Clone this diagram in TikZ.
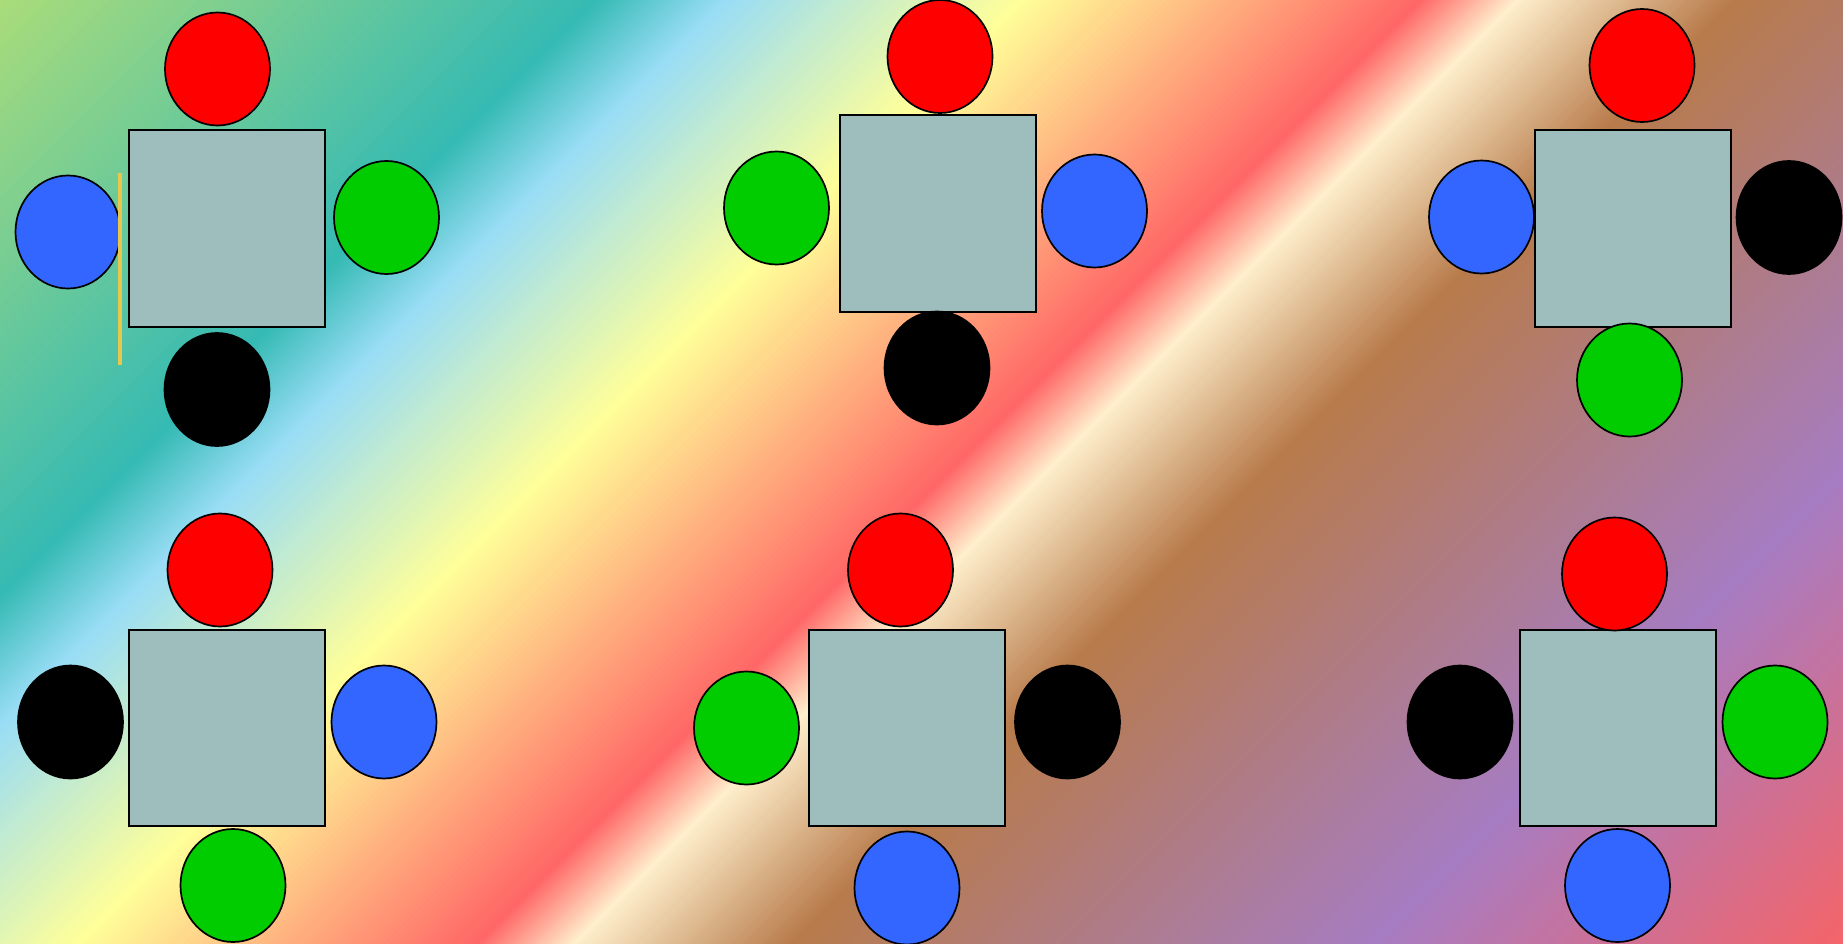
\documentclass[tikz,border=0pt]{standalone}
\usetikzlibrary{shapes.geometric}
\definecolor{bgA}{HTML}{AADC7A}
\definecolor{bgB}{HTML}{35BAB4}
\definecolor{bgC}{HTML}{99DDF6}
\definecolor{bgD}{HTML}{FFFF99}
\definecolor{bgE}{HTML}{FF6666}
\definecolor{bgF}{HTML}{FFEFCC}
\definecolor{bgG}{HTML}{B87B4B}
\definecolor{bgH}{HTML}{A67CC2}
\definecolor{bgI}{HTML}{F56468}
\definecolor{tablefill}{HTML}{9EBDBD}
\definecolor{seatred}{HTML}{FF0000}
\definecolor{seatgreen}{HTML}{00CC00}
\definecolor{seatblue}{HTML}{3366FF}
\definecolor{marker}{HTML}{E8C84C}
\tikzset{
  tablebox/.style={rectangle, draw=black, line width=2pt, fill=tablefill, minimum width=196pt, minimum height=196pt, inner sep=0pt},
  seat/.style={ellipse, draw=black, line width=1.7pt, minimum width=105pt, minimum height=113pt, inner sep=0pt},
  redseat/.style={seat, fill=seatred},
  greenseat/.style={seat, fill=seatgreen},
  blueseat/.style={seat, fill=seatblue},
  blackseat/.style={seat, fill=black},
}
\begin{document}
\begin{tikzpicture}[x=1pt,y=-1pt]
\useasboundingbox (0,0) rectangle (1843,944);
\begin{scope}
\clip (0,0) rectangle (1843,944);
\fill[bgA] (0,0) rectangle (1843,944);
\foreach \sa/\sb/\ca/\cb in {0/595/bgA/bgB, 595/725/bgB/bgC, 725/1020/bgC/bgD, 1020/1420/bgD/bgE, 1420/1517/bgE/bgF, 1517/1735/bgF/bgG, 1735/2315/bgG/bgH, 2315/2790/bgH/bgI}{
  \foreach \k in {0,...,59}{
    \pgfmathsetmacro\st{(\sb-\sa)/60}
    \pgfmathsetmacro\xa{\sa+\st*\k}
    \pgfmathsetmacro\xb{\sa+\st*(\k+1)+0.8}
    \pgfmathtruncatemacro\p{(\k+0.5)*100/60}
    \colorlet{stripe}{\cb!\p!\ca}
    \fill[stripe] (\xa,0) -- (\xb,0) -- (\xb-944,944) -- (\xa-944,944) -- cycle;
  }
}
\end{scope}
% table 1
\node[tablebox] (t1) at (226.5,228.5) {};
\node[redseat] (t1r) at (217.5,69) {};
\node[blueseat] (t1b) at (68,232) {};
\node[greenseat] (t1g) at (386.5,217.5) {};
\node[blackseat] (t1k) at (217,389.5) {};
% table 2
\node[tablebox] (t2) at (937.5,213.5) {};
\node[redseat] (t2r) at (940,56.5) {};
\node[greenseat] (t2g) at (776.5,208) {};
\node[blueseat] (t2b) at (1094.5,211) {};
\node[blackseat] (t2k) at (937,368) {};
% table 3
\node[tablebox] (t3) at (1633,228.5) {};
\node[redseat] (t3r) at (1642,65.5) {};
\node[blueseat] (t3b) at (1481.5,217) {};
\node[blackseat] (t3k) at (1789,217.5) {};
\node[greenseat] (t3g) at (1629.5,380) {};
% table 4
\node[tablebox] (t4) at (226.5,727.5) {};
\node[redseat] (t4r) at (220,570) {};
\node[blackseat] (t4k) at (70.5,722) {};
\node[blueseat] (t4b) at (384,722) {};
\node[greenseat] (t4g) at (233,885.5) {};
% table 5
\node[tablebox] (t5) at (907,727.5) {};
\node[redseat] (t5r) at (900.5,570) {};
\node[greenseat] (t5g) at (746.5,728) {};
\node[blackseat] (t5k) at (1067.5,722) {};
\node[blueseat] (t5b) at (907,888) {};
% table 6
\node[tablebox] (t6) at (1617.5,727.5) {};
\node[redseat] (t6r) at (1614.5,574) {};
\node[blackseat] (t6k) at (1460,722) {};
\node[greenseat] (t6g) at (1775,722) {};
\node[blueseat] (t6b) at (1617.5,885.5) {};
% yellow marker line
\coordinate (m1) at (120,173);
\coordinate (m2) at (120,365);
\draw[marker, line width=3.5pt] (m1) -- (m2);
\end{tikzpicture}
\end{document}
